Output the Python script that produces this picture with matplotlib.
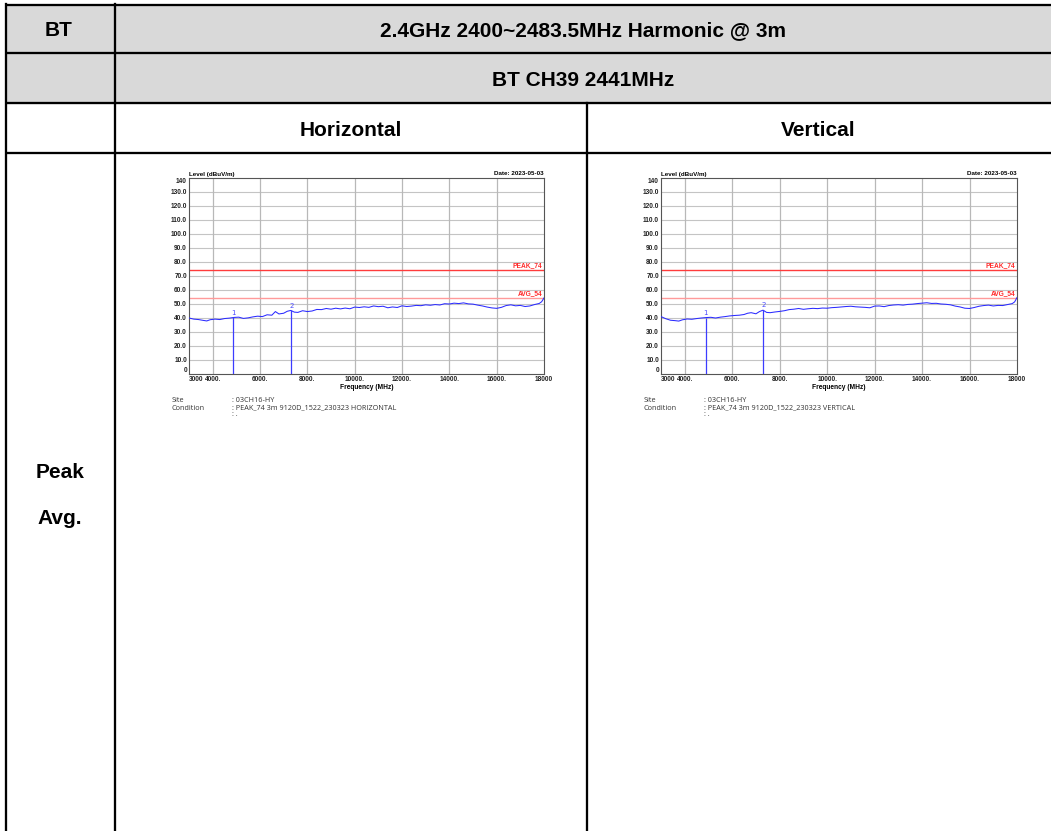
import matplotlib.pyplot as plt
from matplotlib.patches import Rectangle

W, H = 1051, 831

# table texts
band_label = "BT"
title_text = "2.4GHz 2400~2483.5MHz Harmonic @ 3m"
channel_text = "BT CH39 2441MHz"
pol_names = ["Horizontal", "Vertical"]
row_label = ["Peak", "Avg."]

# chart data
freq = [3000, 3200, 3400, 3600, 3750, 3900, 4100, 4300, 4500, 4700, 4900, 5100, 5300, 5500,
        5700, 5900, 6100, 6300, 6500, 6650, 6800, 7000, 7150, 7300, 7450, 7600, 7800, 8000,
        8200, 8400, 8600, 8800, 9000, 9200, 9400, 9600, 9800, 10000, 10200, 10400, 10600,
        10800, 11000, 11200, 11400, 11600, 11800, 12000, 12200, 12400, 12600, 12800, 13000,
        13200, 13400, 13600, 13800, 14000, 14200, 14400, 14600, 14800, 15000, 15200, 15400,
        15600, 15800, 16000, 16200, 16400, 16600, 16800, 17000, 17200, 17400, 17600, 17800,
        17900, 18000]
level_h = [40.0, 39.2, 38.9, 38.3, 37.9, 38.8, 39.2, 38.9, 39.6, 39.9, 40.4, 40.6, 39.7, 40.1,
           40.8, 41.3, 41.0, 42.3, 42.0, 44.6, 42.9, 43.4, 44.8, 45.4, 44.2, 44.0, 45.2, 44.6,
           45.0, 46.1, 46.0, 46.8, 46.3, 47.0, 46.5, 47.1, 46.6, 47.8, 47.5, 48.0, 47.6,
           48.6, 48.1, 48.4, 47.3, 47.9, 47.5, 48.7, 48.2, 48.5, 49.0, 48.8, 49.4,
           49.1, 49.6, 49.3, 50.2, 50.0, 50.6, 50.3, 50.8, 50.1, 49.9, 49.2, 48.6,
           47.8, 47.2, 46.9, 47.6, 48.9, 49.4, 48.7, 49.0, 48.2, 48.6, 49.6, 50.4,
           51.6, 54.3]
level_v = [41.0, 39.5, 38.4, 38.1, 37.8, 38.7, 39.3, 39.1, 39.6, 40.0, 40.3, 40.5, 40.0, 40.6,
           41.0, 41.5, 41.8, 42.0, 42.5, 43.4, 43.8, 43.0, 44.6, 45.6, 44.0, 43.8, 44.3, 44.7,
           45.2, 46.0, 46.3, 46.8, 46.2, 46.6, 46.9, 46.7, 47.1, 47.0, 47.4, 47.6, 47.9,
           48.2, 48.4, 48.0, 47.8, 47.6, 47.3, 48.5, 48.6, 48.1, 48.9, 49.3, 49.5,
           49.2, 49.7, 49.9, 50.3, 50.6, 50.9, 50.4, 50.5, 50.0, 49.8, 49.4, 48.5,
           47.9, 47.0, 46.8, 47.5, 48.4, 48.9, 49.2, 48.6, 49.0, 48.9, 49.6, 50.3,
           51.5, 54.6]
mark_freq_h = [4870, 7320]
mark_level_h = [40.4, 45.4]
mark_freq_v = [4880, 7315]
mark_level_v = [40.3, 45.6]

limits = [74, 54]
limit_names = ["PEAK_74", "AVG_54"]
limit_colors = ["#ff3b3b", "#ff9a9a"]

y_ticks = [0, 10, 20, 30, 40, 50, 60, 70, 80, 90, 100, 110, 120, 130, 140]
y_labels = ["0", "10.0", "20.0", "30.0", "40.0", "50.0", "60.0", "70.0", "80.0", "90.0",
            "100.0", "110.0", "120.0", "130.0", "140"]
x_ticks = [3000, 4000, 6000, 8000, 10000, 12000, 14000, 16000, 18000]
x_labels = ["3000", "4000.", "6000.", "8000.", "10000.", "12000.", "14000.", "16000.", "18000"]
grid_x = [4000, 6000, 8000, 10000, 12000, 14000, 16000]

site_name = ": 03CH16-HY"
conditions = [": PEAK_74 3m 9120D_1522_230323 HORIZONTAL",
              ": PEAK_74 3m 9120D_1522_230323 VERTICAL"]
date_text = "Date: 2023-05-03"

fig = plt.figure(figsize=(W / 100, H / 100), dpi=100)

# ---- table in pixel coords ----
tb = fig.add_axes([0, 0, 1, 1])
tb.set_xlim(0, W)
tb.set_ylim(H, 0)
tb.axis('off')

grey = "#d9d9d9"
tb.add_patch(Rectangle((6, 5), W - 6, 98, color=grey, zorder=0))

lw = 1.65
for y in [5, 53, 103, 153]:
    tb.plot([6, W], [y, y], color='black', lw=lw, solid_capstyle='butt')
tb.plot([6, 6], [4, H], color='black', lw=lw)
tb.plot([115, 115], [4, H], color='black', lw=lw)
tb.plot([587, 587], [103, H], color='black', lw=lw)

tfont = dict(family='Liberation Sans', fontweight='bold', fontsize=15, ha='center', va='center')
tb.text(59, 31, band_label, **tfont)
tb.text(583, 31, title_text, **tfont)
tb.text(583, 80, channel_text, **tfont)
tb.text(351, 130, pol_names[0], **tfont)
tb.text(818, 130, pol_names[1], **tfont)
tb.text(60, 473, row_label[0], **tfont)
tb.text(60, 518, row_label[1], **tfont)


def draw_chart(left_px, right_px, level, mk_f, mk_l, cond):
    top_px, bot_px = 178, 374
    ax = fig.add_axes([left_px / W, 1 - bot_px / H, (right_px - left_px) / W, (bot_px - top_px) / H])
    ax.set_xlim(3000, 18000)
    ax.set_ylim(0, 140)
    for yv in y_ticks[1:-1]:
        ax.axhline(yv, color='#c4c4c4', lw=0.8, zorder=1)
    for xv in grid_x:
        ax.axvline(xv, color='#b8b8b8', lw=0.9, zorder=1)
    for lv, nm, c in zip(limits, limit_names, limit_colors):
        ax.axhline(lv, color=c, lw=1.0, zorder=2)
        ax.text(17930, lv + 1.2, nm, color='#ff2a2a', fontsize=4.8, fontweight='bold',
                ha='right', va='bottom', family='Liberation Sans')
    ax.plot(freq, level, color='#2b2bff', lw=0.75, zorder=3)
    for i, (f, l) in enumerate(zip(mk_f, mk_l)):
        ax.vlines(f, 0, l, color='#3c3cff', lw=0.9, zorder=3)
        ax.text(f, l + 1.2, str(i + 1), color='#4a4aff', fontsize=5, ha='center', va='bottom')
    ax.set_yticks(y_ticks)
    ax.set_yticklabels(y_labels)
    ax.set_xticks(x_ticks)
    ax.set_xticklabels(x_labels)
    ax.tick_params(length=0, labelsize=4.7, pad=1.5, colors='#222222')
    for lab in ax.get_xticklabels() + ax.get_yticklabels():
        lab.set_fontweight('bold')
        lab.set_family('Liberation Sans')
    ax.get_xticklabels()[0].set_ha('left')
    ax.get_yticklabels()[0].set_va('bottom')
    ax.get_yticklabels()[-1].set_va('top')
    for s in ax.spines.values():
        s.set_color('#555555')
        s.set_linewidth(0.8)
    ax.set_xlabel("Frequency (MHz)", fontsize=4.8, fontweight='bold', labelpad=1,
                  family='Liberation Sans')
    ax.text(0.0, 1.005, "Level (dBuV/m)", transform=ax.transAxes, fontsize=4.5,
            fontweight='bold', ha='left', va='bottom', family='Liberation Sans')
    ax.text(1.0, 1.01, date_text, transform=ax.transAxes, fontsize=4.5,
            fontweight='bold', ha='right', va='bottom', family='Liberation Sans')

    small = dict(fontsize=5.2, family='Open Sans', color='#333333', va='center')
    x0 = left_px - 17
    x1 = left_px + 43
    tb.text(x0, 401, "Site", **small)
    tb.text(x1, 401, site_name, **small)
    tb.text(x0, 408, "Condition", **small)
    tb.text(x1, 408, cond, **small)
    tb.text(x1, 415, ": .", **small)


draw_chart(189, 544, level_h, mark_freq_h, mark_level_h, conditions[0])
draw_chart(661, 1017, level_v, mark_freq_v, mark_level_v, conditions[1])

fig.savefig("out.png", dpi=100)
